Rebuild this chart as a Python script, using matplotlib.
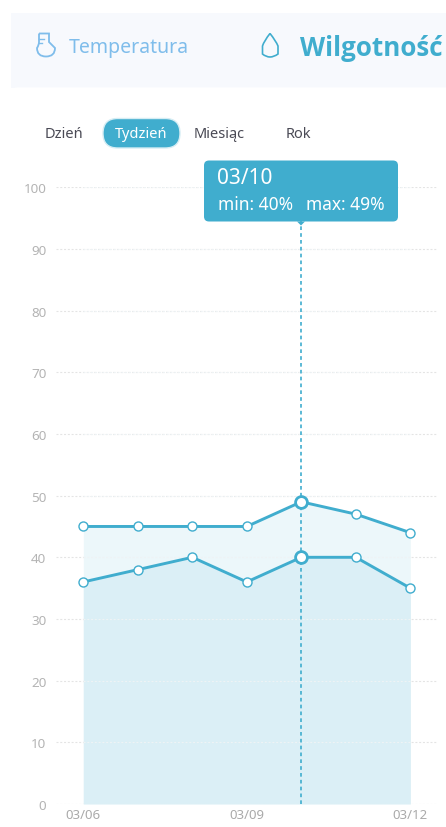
import matplotlib
matplotlib.use('Agg')
import matplotlib.pyplot as plt
from matplotlib.patches import FancyBboxPatch, Rectangle, PathPatch, Polygon, Circle
from matplotlib.path import Path

plt.rcParams['font.family'] = ['Noto Sans', 'DejaVu Sans']

# data
days = [0, 1, 2, 3, 4, 5, 6]
maxValues = [45, 45, 45, 45, 49, 47, 44]
minValues = [36, 38, 40, 36, 40, 40, 35]
yTicks = [0, 10, 20, 30, 40, 50, 60, 70, 80, 90, 100]
xTicks = [0, 3, 6]
xLabels = ['03/06', '03/09', '03/12']
selected = 4
tabs = ['Dzień', 'Tydzień', 'Miesiąc', 'Rok']
tooltipDate = '03/10'
tooltipText = 'min: 40%'
tooltipText2 = 'max: 49%'

W, H = 446, 828
BLUE = '#40adce'
LIGHT = '#7fbdeb'

fig = plt.figure(figsize=(W / 100, H / 100), dpi=100, facecolor='white')

# overlay for the app interface, in pixels
ui = fig.add_axes([0, 0, 1, 1])
ui.set_xlim(0, W)
ui.set_ylim(H, 0)
ui.axis('off')

ui.add_patch(Rectangle((11, 13.5), 435, 75, fc='#f7f9fd', ec='none'))
ui.add_patch(FancyBboxPatch((11, 88.5), 460, 30, boxstyle='round,pad=0,rounding_size=6', fc='white', ec='none'))

# flask icon
flask = Path([(39, 34.5), (49, 34.5), (49, 43), (52, 46), (55, 49), (55, 57.5), (46, 57.5),
              (37, 57.5), (37, 49), (39, 46), (39, 43), (39, 34.5)],
             [1, 2, 2, 3, 3, 3, 3, 3, 3, 3, 3, 2])
ui.add_patch(PathPatch(flask, fc='none', ec=LIGHT, lw=1.3))
ui.plot([39, 44], [39.5, 39.5], color=LIGHT, lw=1)
ui.plot([39, 42], [43.5, 43.5], color=LIGHT, lw=1)

# drop icon
drop = Path([(270, 34.5), (264, 42), (262.5, 47), (262.5, 50), (262.5, 55), (266, 58), (270, 58),
             (274, 58), (278, 55), (278, 50), (278, 47), (276, 42), (270, 34.5)],
            [1, 3, 3, 3, 3, 3, 3, 3, 3, 3, 3, 3, 3])
ui.add_patch(PathPatch(drop, fc='none', ec=BLUE, lw=1.2))

ui.text(69, 48.5, 'Temperatura', fontsize=14, color=LIGHT, va='center', ha='left')
ui.text(300, 48, 'Wilgotność', fontsize=18.7, color=BLUE, fontweight='bold', family=['Open Sans', 'DejaVu Sans'], va='center', ha='left')

# period tabs
ui.add_patch(FancyBboxPatch((103, 119.5), 77, 29.5, boxstyle='round,pad=0,rounding_size=14.7', fc=BLUE, ec='#d5edf4', lw=1))
tabX = [63.5, 141.5, 219.5, 298]
for i in range(len(tabs)):
    if i == 1:
        col = 'white'
    else:
        col = '#4a4a55'
    ui.text(tabX[i], 135, tabs[i], fontsize=10.5, color=col, ha='center', va='center')

# chart
x0, x1 = 56, 437
top, bottom = 188.4, 804.9
ax = fig.add_axes([x0 / W, (H - bottom) / H, (x1 - x0) / W, (bottom - top) / H])
ax.patch.set_alpha(0)
step = (410.3 - 83.3) / 6
ax.set_xlim((x0 - 83.3) / step, (x1 - 83.3) / step)
ax.set_ylim(0, 100)
for s in ax.spines.values():
    s.set_visible(False)

ax.set_yticks(yTicks)
ax.set_yticklabels([str(v) for v in yTicks], fontsize=9.7, color='#b4b4b4')
ax.set_xticks(xTicks)
ax.set_xticklabels(xLabels, fontsize=9.5, color='#aaaaaa')
ax.tick_params(length=0)
ax.tick_params(axis='y', pad=7)
ax.tick_params(axis='x', pad=3)
ax.grid(axis='y', color='#e4e4e4', lw=0.8, ls=(0, (1.8, 1.6)))
ax.set_axisbelow(True)

ax.fill_between(days, maxValues, color='#ecf7fa', lw=0, zorder=1)
ax.fill_between(days, minValues, color='#dbeff6', lw=0, zorder=1.1)
for v in yTicks:
    ax.plot([days[0], days[-1]], [v, v], color='#eef3f5', lw=0.8, ls=(0, (1.8, 1.6)), zorder=1.2)

ax.plot([selected, selected], [0, 94.5], color=BLUE, lw=1.2, ls=(0, (2.2, 1.9)), zorder=2)

for vals in (maxValues, minValues):
    ax.plot(days, vals, color=BLUE, lw=2.1, marker='o', ms=6.5, mfc='white', mec=BLUE, mew=1, zorder=3, clip_on=False)
    ax.plot(selected, vals[selected], marker='o', ms=8.5, mfc='white', mec=BLUE, mew=2, zorder=4, clip_on=False)

# tooltip
ui.set_zorder(0)
ax.set_zorder(1)
tip = fig.add_axes([0, 0, 1, 1])
tip.set_xlim(0, W)
tip.set_ylim(H, 0)
tip.axis('off')
tip.set_zorder(2)
tip.add_patch(FancyBboxPatch((204, 161.5), 194, 61, boxstyle='round,pad=0,rounding_size=5', fc=BLUE, ec='none'))
tip.add_patch(Polygon([[297, 222.5], [305, 222.5], [301, 226.5]], fc=BLUE, ec='none'))
tip.text(217.5, 179, tooltipDate, fontsize=15, color='white', va='center', ha='left')
tip.text(217.5, 205, tooltipText, fontsize=12.5, color='white', va='center', ha='left')
tip.text(306, 205, tooltipText2, fontsize=12.5, color='white', va='center', ha='left')

fig.savefig('out.png', dpi=100)
